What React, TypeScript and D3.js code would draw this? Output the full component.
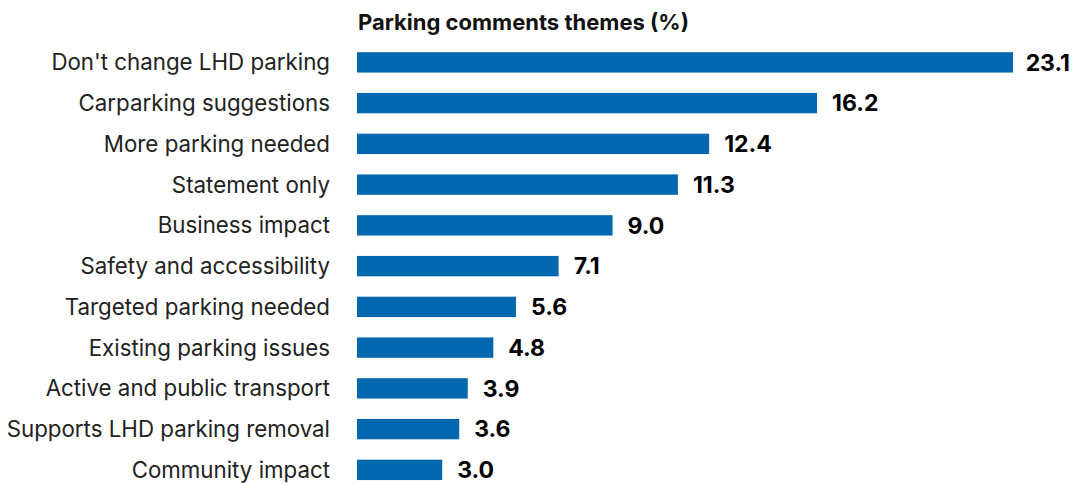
import React, { useRef, useEffect } from 'react';
import * as d3 from 'd3';

const categories = [
  "Don't change LHD parking",
  'Carparking suggestions',
  'More parking needed',
  'Statement only',
  'Business impact',
  'Safety and accessibility',
  'Targeted parking needed',
  'Existing parking issues',
  'Active and public transport',
  'Supports LHD parking removal',
  'Community impact',
];
const values = [23.1, 16.2, 12.4, 11.3, 9.0, 7.1, 5.6, 4.8, 3.9, 3.6, 3.0];
const title = 'Parking comments themes (%)';

const W = 1076;
const H = 485;
const FONT = 'Inter, "Open Sans", sans-serif';

export default function App() {
  const ref = useRef<SVGSVGElement>(null);

  useEffect(() => {
    const el = ref.current;
    if (!el) return;
    const svg = d3.select(el);
    svg.selectAll('*').remove();

    const margin = { top: 42, left: 357, right: 6 };
    const x = d3.scaleLinear().domain([0, 23.1]).range([margin.left, 1013]);
    const y = d3
      .scaleBand<string>()
      .domain(categories)
      .range([margin.top, margin.top + 40.75 * categories.length])
      .paddingInner(0.5)
      .paddingOuter(0.25);

    svg
      .append('text')
      .attr('x', margin.left + 1)
      .attr('y', 30)
      .attr('font-family', FONT)
      .attr('font-weight', 700)
      .attr('font-size', '22px')
      .attr('fill', '#111')
      .text(title);

    const rows = svg
      .selectAll('g.row')
      .data(categories)
      .enter()
      .append('g')
      .attr('class', 'row');

    rows
      .append('rect')
      .attr('x', x(0))
      .attr('y', (d) => y(d)!)
      .attr('height', y.bandwidth())
      .attr('width', (_, i) => x(values[i]) - x(0))
      .attr('fill', '#0468b1');

    rows
      .append('text')
      .attr('x', 330)
      .attr('y', (d) => y(d)! + y.bandwidth() / 2)
      .attr('dy', '0.36em')
      .attr('text-anchor', 'end')
      .attr('font-family', FONT)
      .attr('font-size', '22.3px')
      .attr('fill', '#222')
      .text((d) => d);

    rows
      .append('text')
      .attr('y', (d) => y(d)! + y.bandwidth() / 2)
      .attr('dy', '0.36em')
      .attr('font-family', FONT)
      .attr('font-weight', 700)
      .attr('font-size', '23px')
      .attr('fill', '#000')
      .text((_, i) => values[i].toFixed(1))
      .each(function (_, i) {
        const t = this as SVGTextElement;
        const w = t.getComputedTextLength();
        const pos = Math.min(x(values[i]) + 15, W - margin.right - w);
        t.setAttribute('x', String(pos));
      });
  }, []);

  return (
    <svg
      ref={ref}
      width={W}
      height={H}
      style={{ position: 'absolute', left: 0, top: 0, background: '#fff' }}
    />
  );
}
